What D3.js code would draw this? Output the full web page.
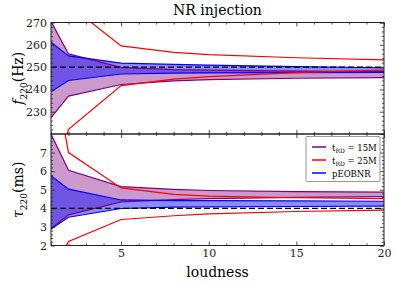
<!DOCTYPE html>
<html>
<head>
<meta charset="utf-8">
<script src="https://cdn.jsdelivr.net/npm/d3@7"></script>
<style>
  body { margin: 0; background: #fff; }
</style>
</head>
<body>
<div id="chart"></div>
<script>
// loudness values (x)
const loudness = [1, 2, 5, 8, 10, 15, 20];

// f220 (Hz) bands
const purpleF_lo = [227.3, 237.0, 242.2, 243.8, 244.4, 245.0, 245.3];
const purpleF_hi = [270.5, 255.9, 249.9, 248.9, 248.6, 248.2, 248.0];
const blueF_lo = [238.9, 244.0, 246.9, 247.3, 247.4, 247.5, 247.6];
const blueF_hi = [261.1, 255.0, 251.8, 251.2, 250.9, 250.2, 249.7];
const redF_lo = [195, 222.1, 241.7, 244.6, 245.7, 247.5, 248.6];
const redF_hi = [300, 278, 259.5, 256.6, 255.6, 254.2, 253.2];

// tau220 (ms) bands
const purpleT_lo = [2.92, 3.65, 4.35, 4.47, 4.52, 4.59, 4.63];
const purpleT_hi = [8.0, 6.05, 5.17, 5.02, 4.96, 4.9, 4.87];
const blueT_lo = [2.89, 3.52, 3.99, 4.06, 4.08, 4.1, 4.12];
const blueT_hi = [5.75, 5.03, 4.45, 4.42, 4.41, 4.4, 4.38];
const redT_lo = [0.5, 2.22, 3.4, 3.6, 3.7, 3.83, 3.9];
const redT_hi = [12, 7.0, 5.1, 4.75, 4.66, 4.57, 4.52];

const injF = 250, injT = 4;

const fTicks = [230, 240, 250, 260, 270];
const tTicks = [2, 3, 4, 5, 6, 7];
const xTicks = [5, 10, 15, 20];

const W = 398, H = 286;
const left = 51, right = 384;
const topPanel = { y0: 22.5, y1: 134 };
const botPanel = { y0: 134, y1: 245.5 };
const SERIF = '"DejaVu Serif", serif';

const svg = d3.select('#chart').append('svg')
    .attr('width', W).attr('height', H);

const x = d3.scaleLinear().domain([1, 20]).range([left, right]);
const yF = d3.scaleLinear().domain([220, 270]).range([topPanel.y1, topPanel.y0]);
const yT = d3.scaleLinear().domain([2, 8]).range([botPanel.y1, botPanel.y0]);

const colPurple = '#800080', colBlue = '#0000ff', colRed = '#ff0000';

function drawPanel(id, y, panel, bands, inj, majors, minors, showX) {
    const g = svg.append('g');
    g.append('clipPath').attr('id', id)
        .append('rect')
        .attr('x', left).attr('y', panel.y0)
        .attr('width', right - left).attr('height', panel.y1 - panel.y0);
    const plot = g.append('g').attr('clip-path', `url(#${id})`);

    const area = (lo, hi) => d3.area()
        .x((d, i) => x(loudness[i]))
        .y0((d, i) => y(lo[i]))
        .y1((d, i) => y(hi[i]))(loudness);
    const line = (vals) => d3.line()
        .x((d, i) => x(loudness[i]))
        .y((d, i) => y(vals[i]))(loudness);

    plot.append('path').attr('d', area(bands.p[0], bands.p[1]))
        .attr('fill', colPurple).attr('fill-opacity', 0.4);
    plot.append('path').attr('d', area(bands.b[0], bands.b[1]))
        .attr('fill', colBlue).attr('fill-opacity', 0.45);

    [[bands.p, colPurple], [bands.b, colBlue], [bands.r, colRed]].forEach(([pair, c]) => {
        pair.forEach(vals => {
            plot.append('path').attr('d', line(vals))
                .attr('fill', 'none').attr('stroke', c).attr('stroke-width', 1.2);
        });
    });

    plot.append('line')
        .attr('x1', left).attr('x2', right)
        .attr('y1', y(inj)).attr('y2', y(inj))
        .attr('stroke', '#000').attr('stroke-width', 1.2)
        .attr('stroke-dasharray', '6,3');

    // ticks (inward on all sides)
    const ax = (a, t) => { a.call(t); a.select('.domain').remove(); a.attr('font-family', null); return a; };
    const fs = 11;

    ax(g.append('g').attr('transform', `translate(${left},0)`),
        d3.axisLeft(y).tickValues(majors).tickSize(-4).tickPadding(4).tickFormat(d3.format('d')))
        .selectAll('text').style('font-size', fs + 'px').style('font-family', SERIF).attr('fill', '#222');
    ax(g.append('g').attr('transform', `translate(${left},0)`),
        d3.axisLeft(y).tickValues(minors).tickSize(-2).tickFormat(''));
    ax(g.append('g').attr('transform', `translate(${right},0)`),
        d3.axisRight(y).tickValues(majors.concat(y.domain())).tickSize(-4).tickFormat(''));
    ax(g.append('g').attr('transform', `translate(${right},0)`),
        d3.axisRight(y).tickValues(minors).tickSize(-2).tickFormat(''));

    const xMinor = d3.range(1, 21).filter(v => v % 5 !== 0);
    const xb = ax(g.append('g').attr('transform', `translate(0,${panel.y1})`),
        d3.axisBottom(x).tickValues(xTicks).tickSize(-4).tickPadding(4)
            .tickFormat(showX ? d3.format('d') : ''));
    xb.selectAll('text').style('font-size', fs + 'px').style('font-family', SERIF).attr('fill', '#222');
    ax(g.append('g').attr('transform', `translate(0,${panel.y1})`),
        d3.axisBottom(x).tickValues(xMinor).tickSize(-2).tickFormat(''));
    ax(g.append('g').attr('transform', `translate(0,${panel.y0})`),
        d3.axisTop(x).tickValues(xTicks).tickSize(-4).tickFormat(''));
    ax(g.append('g').attr('transform', `translate(0,${panel.y0})`),
        d3.axisTop(x).tickValues(xMinor).tickSize(-2).tickFormat(''));

    g.selectAll('.tick line').attr('stroke', '#222').attr('stroke-width', 0.8);

    g.append('rect')
        .attr('x', left).attr('y', panel.y0)
        .attr('width', right - left).attr('height', panel.y1 - panel.y0)
        .attr('fill', 'none').attr('stroke', '#222').attr('stroke-width', 1);
}

const fMinor = d3.range(222, 270, 2).filter(v => v % 10 !== 0);
const tMinor = d3.range(2.2, 8, 0.2).map(v => +v.toFixed(1)).filter(v => Math.abs(v - Math.round(v)) > 0.01);

drawPanel('clipTop', yF, topPanel,
    { p: [purpleF_lo, purpleF_hi], b: [blueF_lo, blueF_hi], r: [redF_lo, redF_hi] },
    injF, fTicks, fMinor, false);
drawPanel('clipBot', yT, botPanel,
    { p: [purpleT_lo, purpleT_hi], b: [blueT_lo, blueT_hi], r: [redT_lo, redT_hi] },
    injT, tTicks, tMinor, true);

// title and axis labels
svg.append('text')
    .attr('x', (left + right) / 2).attr('y', 15)
    .attr('text-anchor', 'middle')
    .style('font-family', SERIF)
    .style('font-size', '14px')
    .text('NR injection');

svg.append('text')
    .attr('x', (left + right) / 2).attr('y', 277)
    .attr('text-anchor', 'middle')
    .style('font-family', SERIF)
    .style('font-size', '14px')
    .text('loudness');

function yLabel(cy, sym, unit) {
    const t = svg.append('text')
        .attr('transform', `translate(23,${cy}) rotate(-90)`)
        .attr('text-anchor', 'middle')
        .style('font-family', SERIF)
        .style('font-size', '14px');
    t.append('tspan').style('font-style', 'italic').text(sym);
    t.append('tspan').attr('dy', 4).style('font-size', '9px').text('220');
    t.append('tspan').attr('dy', -4).text(`(${unit})`);
}
yLabel((topPanel.y0 + topPanel.y1) / 2, 'f', 'Hz');
yLabel((botPanel.y0 + botPanel.y1) / 2, 'τ', 'ms');

// legend
const legendItems = [
    { c: colPurple, sub: 'RD', txt: ' = 15M', lab: 't' },
    { c: colRed, sub: 'RD', txt: ' = 25M', lab: 't' },
    { c: colBlue, sub: '', txt: '', lab: 'pEOBNR' }
];
const lg = svg.append('g');
lg.append('rect')
    .attr('x', 306).attr('y', 136.5)
    .attr('width', 74).attr('height', 45)
    .attr('rx', 1)
    .attr('fill', '#fff').attr('stroke', '#999').attr('stroke-width', 1);
legendItems.forEach((d, i) => {
    const yy = 147 + i * 13;
    lg.append('line')
        .attr('x1', 312).attr('x2', 326)
        .attr('y1', yy).attr('y2', yy)
        .attr('stroke', d.c).attr('stroke-width', 1.5);
    const t = lg.append('text')
        .attr('x', 332).attr('y', yy + 3.5)
        .style('font-family', SERIF)
        .style('font-size', '8.5px');
    t.append('tspan').text(d.lab);
    if (d.sub) {
        t.append('tspan').attr('dy', 2).style('font-size', '6px').text(d.sub);
        t.append('tspan').attr('dy', -2).text(d.txt);
    }
});
</script>
</body>
</html>
